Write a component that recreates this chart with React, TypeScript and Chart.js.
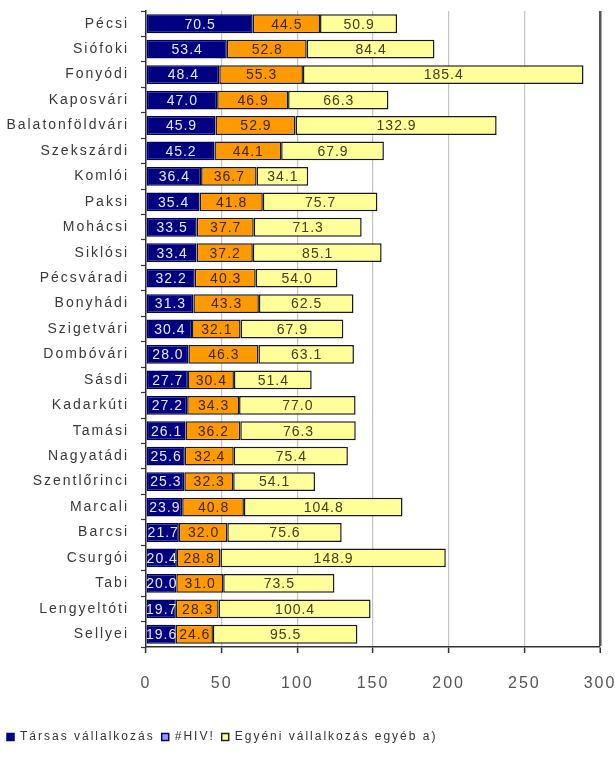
import React, { useEffect, useRef } from 'react';
import { Chart, registerables } from 'chart.js';

Chart.register(...registerables);

const categories = [
  'Pécsi', 'Siófoki', 'Fonyódi', 'Kaposvári', 'Balatonföldvári', 'Szekszárdi', 'Komlói', 'Paksi',
  'Mohácsi', 'Siklósi', 'Pécsváradi', 'Bonyhádi', 'Szigetvári', 'Dombóvári', 'Sásdi', 'Kadarkúti',
  'Tamási', 'Nagyatádi', 'Szentlőrinci', 'Marcali', 'Barcsi', 'Csurgói', 'Tabi', 'Lengyeltóti', 'Sellyei',
];

const tarsas = [
  70.5, 53.4, 48.4, 47.0, 45.9, 45.2, 36.4, 35.4, 33.5, 33.4, 32.2, 31.3, 30.4, 28.0, 27.7, 27.2,
  26.1, 25.6, 25.3, 23.9, 21.7, 20.4, 20.0, 19.7, 19.6,
];

const hiv = [
  44.5, 52.8, 55.3, 46.9, 52.9, 44.1, 36.7, 41.8, 37.7, 37.2, 40.3, 43.3, 32.1, 46.3, 30.4, 34.3,
  36.2, 32.4, 32.3, 40.8, 32.0, 28.8, 31.0, 28.3, 24.6,
];

const egyeni = [
  50.9, 84.4, 185.4, 66.3, 132.9, 67.9, 34.1, 75.7, 71.3, 85.1, 54.0, 62.5, 67.9, 63.1, 51.4, 77.0,
  76.3, 75.4, 54.1, 104.8, 75.6, 148.9, 73.5, 100.4, 95.5,
];

const seriesNames = ['Társas vállalkozás', '#HIV!', 'Egyéni vállalkozás egyéb a)'];
const xTickValues = [0, 50, 100, 150, 200, 250, 300];

const FONT = "'Liberation Sans', Arial, sans-serif";
const barColors = ['#000080', '#FF9900', '#FFFF99'];
const barBorders = ['#000060', '#1a1a1a', '#1a1a1a'];
const labelColors = ['#e6e6ff', '#3a2800', '#40401a'];
const legendFill = ['#000080', '#9999ff', '#FFFF99'];
const legendStroke = ['#000080', '#000080', '#222222'];

export default function App() {
  const ref = useRef<HTMLCanvasElement>(null);

  useEffect(() => {
    document.body.style.margin = '0';
    const canvas = ref.current;
    if (!canvas) return;

    const spacingPlugin = {
      id: 'spacingPlugin',
      beforeLayout(chart: any) {
        chart.ctx.letterSpacing = '2px';
      },
      beforeDraw(chart: any) {
        chart.ctx.letterSpacing = '2px';
      },
    };

    const valueLabels = {
      id: 'valueLabels',
      afterDatasetsDraw(chart: any) {
        const ctx = chart.ctx;
        ctx.save();
        ctx.letterSpacing = '1px';
        ctx.font = `14px ${FONT}`;
        ctx.textAlign = 'center';
        ctx.textBaseline = 'middle';
        chart.data.datasets.forEach((ds: any, i: number) => {
          const meta = chart.getDatasetMeta(i);
          meta.data.forEach((el: any, j: number) => {
            const p = el.getProps(['x', 'y', 'base'], true);
            ctx.fillStyle = labelColors[i];
            ctx.fillText(Number(ds.data[j]).toFixed(1), (p.x + p.base) / 2 + 0.5, p.y + 1);
          });
        });
        ctx.restore();
      },
    };

    const datasets = [tarsas, hiv, egyeni].map((data, i) => ({
      label: seriesNames[i],
      data,
      backgroundColor: barColors[i],
      borderColor: barBorders[i],
      borderWidth: 1.5,
      borderSkipped: false as const,
      barPercentage: 0.74,
      categoryPercentage: 1.0,
    }));

    const chart = new Chart(canvas, {
      type: 'bar',
      data: { labels: categories, datasets },
      plugins: [spacingPlugin, valueLabels],
      options: {
        indexAxis: 'y',
        animation: false,
        responsive: false,
        layout: { padding: { left: 0, right: 15, top: 11, bottom: 7 } },
        scales: {
          x: {
            stacked: true,
            min: 0,
            max: 300,
            afterBuildTicks: (scale: any) => {
              scale.ticks = xTickValues.map((v) => ({ value: v }));
            },
            afterFit: (scale: any) => {
              scale.height = 77;
              scale.paddingLeft = 0;
              scale.paddingRight = 0;
            },
            grid: {
              color: (c: any) => (c.tick && c.tick.value === 300 ? '#555555' : c.tick && c.tick.value === 0 ? 'rgba(0,0,0,0)' : '#c4c4c4'),
              lineWidth: (c: any) => (c.tick && c.tick.value === 300 ? 2.5 : 1.2),
              tickColor: '#333333',
              tickLength: 6,
              tickWidth: 1.5,
            },
            border: { display: true, color: '#333333', width: 1.5 },
            ticks: {
              padding: 21,
              color: '#555555',
              font: { family: FONT, size: 16 },
              maxRotation: 0,
            },
          },
          y: {
            stacked: true,
            afterFit: (scale: any) => {
              scale.width = 146;
              scale.paddingTop = 0;
              scale.paddingBottom = 0;
            },
            grid: {
              drawOnChartArea: false,
              drawTicks: true,
              tickLength: 5,
              tickColor: '#333333',
              tickWidth: 1.2,
            },
            border: { display: true, color: '#333333', width: 1.5 },
            ticks: {
              padding: 12,
              color: '#3a3a3a',
              font: { family: FONT, size: 14 },
              autoSkip: false,
            },
          },
        },
        plugins: {
          title: { display: false },
          tooltip: { enabled: false },
          legend: {
            display: true,
            position: 'bottom',
            align: 'start',
            labels: {
              boxWidth: 7,
              boxHeight: 7,
              padding: 7,
              color: '#333333',
              font: { family: FONT, size: 12 },
              generateLabels: () =>
                seriesNames.map((text, i) => ({
                  text,
                  fillStyle: legendFill[i],
                  strokeStyle: legendStroke[i],
                  lineWidth: 1.5,
                  hidden: false,
                  datasetIndex: i,
                  fontColor: '#333333',
                })),
            },
          },
        },
      },
    });

    return () => {
      chart.destroy();
    };
  }, []);

  return (
    <div style={{ width: 615, height: 760, background: '#ffffff' }}>
      <canvas ref={ref} width={615} height={760} style={{ display: 'block' }} />
    </div>
  );
}
